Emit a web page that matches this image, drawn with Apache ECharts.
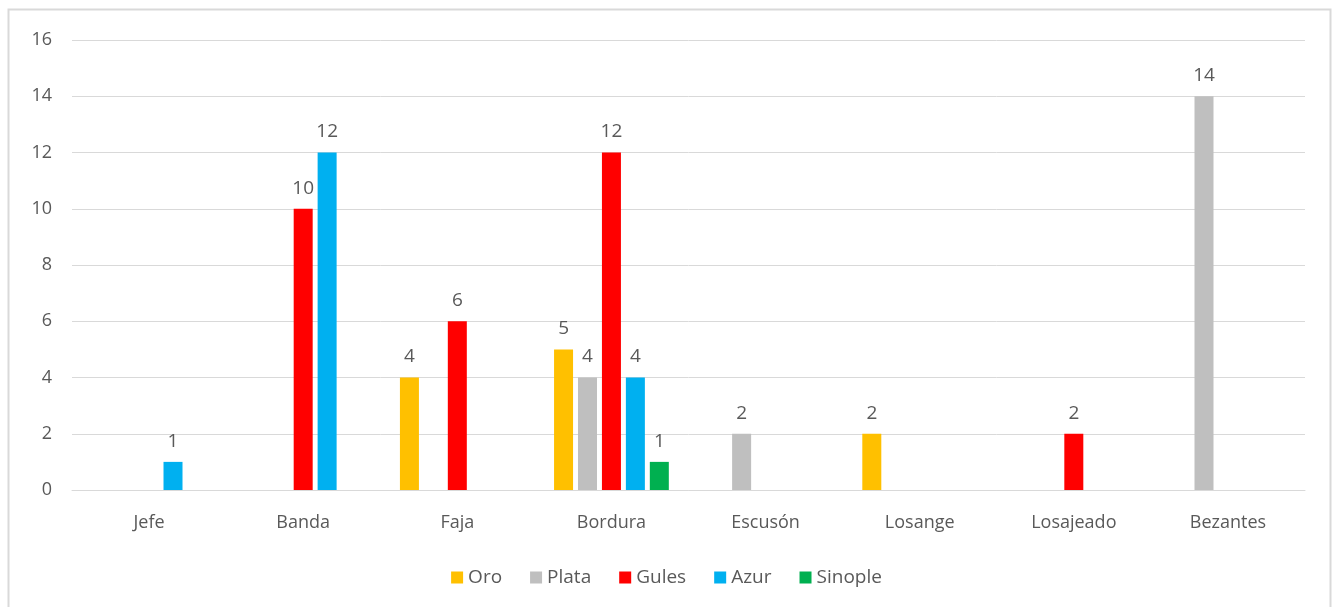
<!DOCTYPE html>
<html>
<head>
<meta charset="utf-8">
<script src="https://cdn.jsdelivr.net/npm/echarts@6/dist/echarts.min.js"></script>
<style>
  html, body { margin: 0; padding: 0; background: #ffffff; }
  #chart { width: 1333px; height: 607px; }
</style>
</head>
<body>
<div id="chart"></div>
<script>
var categories = ["Jefe", "Banda", "Faja", "Bordura", "Escusón", "Losange", "Losajeado", "Bezantes"];
// null = empty slot (Excel keeps the gap in the cluster)
var oro     = [null, null, 4, 5, null, 2, null, null];
var plata   = [null, null, null, 4, 2, null, null, 14];
var gules   = [null, 10, 6, 12, null, null, 2, null];
var azur    = [1, 12, null, 4, null, null, null, null];
var sinople = [null, null, null, 1, null, null, null, null];
var yTicks  = {min: 0, max: 16, interval: 2};

var FONT = "'Open Sans', 'Liberation Sans', sans-serif";
var TEXT = "#595959";

function makeSeries(name, data, color) {
    return {
        name: name,
        type: 'bar',
        data: data,
        barWidth: 19,
        barGap: '26%',
        itemStyle: { color: color },
        label: {
            show: true,
            position: 'top',
            distance: 11,
            color: TEXT,
            fontSize: 19,
            fontFamily: FONT
        }
    };
}

var myChart = echarts.init(document.getElementById('chart'));
var option = {
    animation: false,
    color: ["#FFC000", "#BFBFBF", "#FF0000", "#00B0F0", "#00B050"],
    graphic: [{
        type: 'rect',
        shape: { x: 8.5, y: 9.5, width: 1322, height: 700 },
        style: { fill: 'none', stroke: '#d9d9d9', lineWidth: 2 },
        silent: true
    }],
    grid: { left: 72, right: 28, top: 40, bottom: 117 },
    legend: {
        bottom: 15,
        left: 'center',
        itemWidth: 12,
        itemHeight: 12,
        itemGap: 28,
        icon: 'rect',
        textStyle: { color: TEXT, fontSize: 19, fontFamily: FONT },
        data: ["Oro", "Plata", "Gules", "Azur", "Sinople"]
    },
    xAxis: {
        type: 'category',
        data: categories,
        axisLine: { lineStyle: { color: '#d9d9d9', width: 1 } },
        axisTick: { show: false },
        axisLabel: { color: TEXT, fontSize: 18, fontFamily: FONT, margin: 24 }
    },
    yAxis: {
        type: 'value',
        min: yTicks.min,
        max: yTicks.max,
        interval: yTicks.interval,
        axisLine: { show: false },
        axisTick: { show: false },
        splitLine: { lineStyle: { color: '#d9d9d9' } },
        axisLabel: { color: TEXT, fontSize: 18, fontFamily: FONT, margin: 20 }
    },
    series: [
        makeSeries("Oro", oro, "#FFC000"),
        makeSeries("Plata", plata, "#BFBFBF"),
        makeSeries("Gules", gules, "#FF0000"),
        makeSeries("Azur", azur, "#00B0F0"),
        makeSeries("Sinople", sinople, "#00B050")
    ]
};
myChart.setOption(option);
</script>
</body>
</html>
